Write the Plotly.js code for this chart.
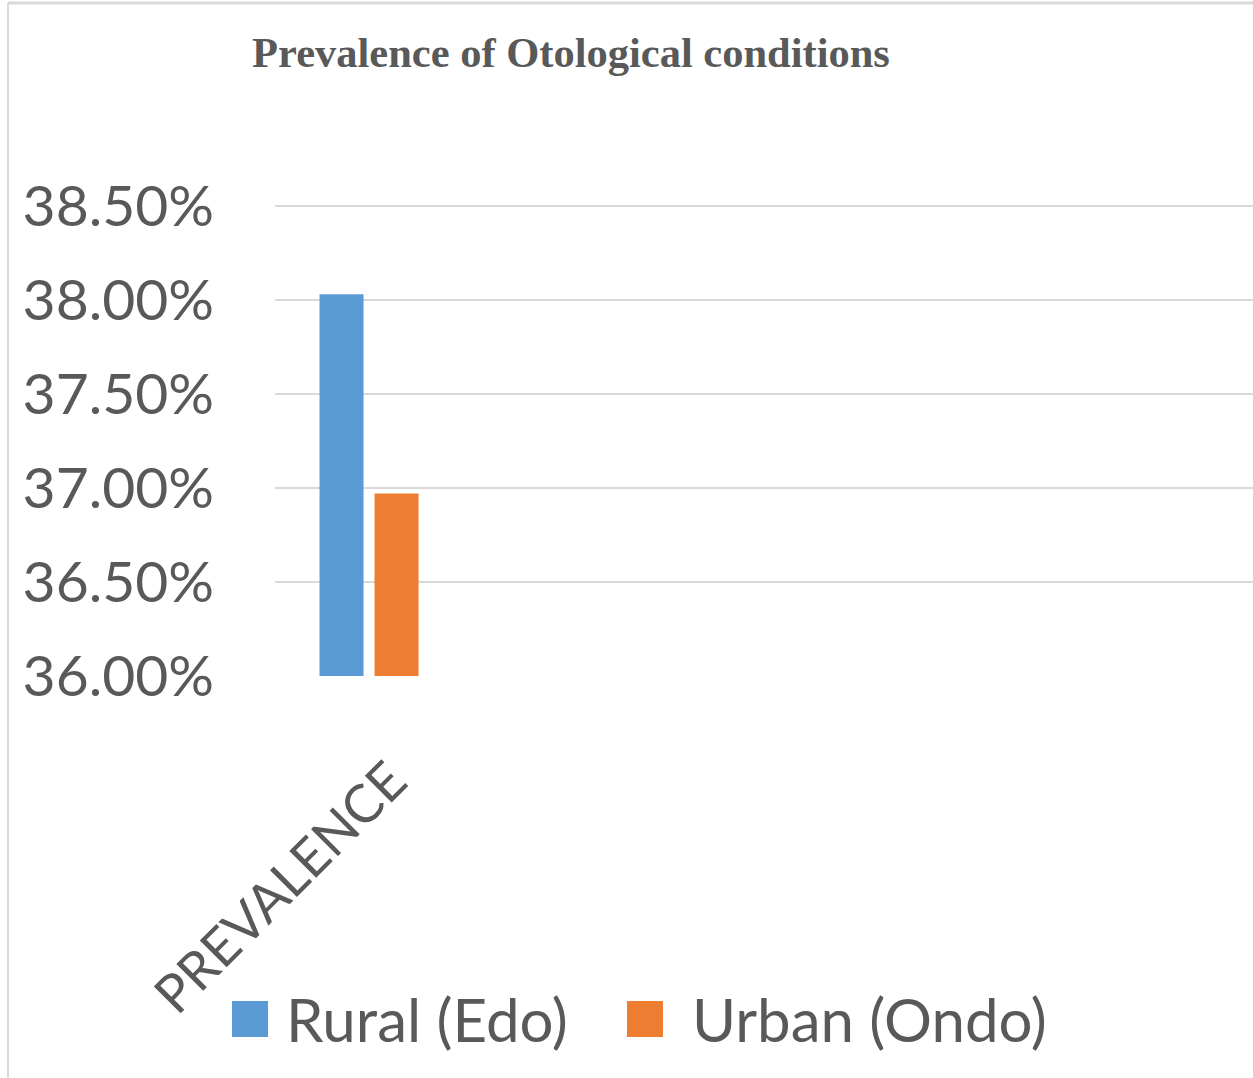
<!DOCTYPE html>
<html>
<head>
<meta charset="utf-8">
<script src="https://cdn.plot.ly/plotly-3.0.1.min.js"></script>
<style>
  html, body { margin: 0; padding: 0; background: #ffffff; }
  #chart { width: 1253px; height: 1078px; }
</style>
</head>
<body>
<div id="chart"></div>
<script>
// ---- data ----
const categories = ['PREVALENCE'];
const seriesNames = ['Rural (Edo)', 'Urban (Ondo)'];
const ruralValues = [0.3803];
const urbanValues = [0.3697];
const yTickValues = [0.36, 0.365, 0.37, 0.375, 0.38, 0.385];
const yTickLabels = ['36.00%', '36.50%', '37.00%', '37.50%', '38.00%', '38.50%'];
const chartTitle = 'Prevalence of Otological conditions';

// ---- styles ----
const W = 1253, H = 1078;
const M = { l: 275, r: 0, t: 202, b: 402 };
const plotW = W - M.l - M.r, plotH = H - M.t - M.b;
const px2x = p => (p - M.l) / plotW;
const py2y = p => (H - M.b - p) / plotH;
const colors = ['#5B9BD5', '#ED7D31'];
const textColor = '#595959';
const gridColor = '#D9D9D9';
const sansFont = 'Lato, "Open Sans", sans-serif';

const traces = [
  { type: 'bar', name: seriesNames[0], x: categories, y: ruralValues,
    marker: { color: colors[0] }, showlegend: false, hoverinfo: 'y' },
  { type: 'bar', name: seriesNames[1], x: categories, y: urbanValues,
    marker: { color: colors[1] }, showlegend: false, hoverinfo: 'y' }
];

// legend drawn as shapes + annotations (large swatches like the original)
const legendItems = [
  { sw: 232, tx: 284 },
  { sw: 627, tx: 690 }
];
const shapes = [];
const annotations = [];
legendItems.forEach((it, i) => {
  shapes.push({ type: 'rect', xref: 'paper', yref: 'paper',
    x0: px2x(it.sw), x1: px2x(it.sw + 36), y0: py2y(1037), y1: py2y(1001),
    fillcolor: colors[i], line: { width: 0 } });
  annotations.push({ xref: 'paper', yref: 'paper', x: px2x(it.tx), y: py2y(1019),
    xanchor: 'left', yanchor: 'middle', showarrow: false, text: seriesNames[i],
    font: { family: sansFont, size: 60, color: textColor } });
});
// chart frame (top and left border)
shapes.push({ type: 'line', xref: 'paper', yref: 'paper', x0: px2x(8), x1: px2x(1253), y0: py2y(3), y1: py2y(3), line: { color: gridColor, width: 3 } });
shapes.push({ type: 'line', xref: 'paper', yref: 'paper', x0: px2x(8), x1: px2x(8), y0: py2y(3), y1: py2y(1078), line: { color: gridColor, width: 2 } });

const layout = {
  width: W, height: H,
  margin: M,
  paper_bgcolor: '#ffffff', plot_bgcolor: '#ffffff',
  title: { text: '<b>' + chartTitle + '</b>', x: 571 / W, xanchor: 'center', xref: 'container',
    y: 1 - 52 / H, yanchor: 'middle', yref: 'container',
    font: { family: '"Liberation Serif", "Times New Roman", serif', size: 42.5, color: textColor } },
  barmode: 'group', bargap: 0.415, bargroupgap: 0.2,
  xaxis: { type: 'category', range: [-0.5, 4.7], tickangle: -45, showgrid: false,
    showline: false, zeroline: false, ticks: '',
    ticklabelstandoff: 62, ticklabelshift: 22,
    tickfont: { family: sansFont, size: 53, color: textColor } },
  yaxis: { range: [0.36, 0.3852], tickvals: yTickValues, ticktext: yTickLabels,
    showgrid: true, gridcolor: gridColor, gridwidth: 2, zeroline: false, showline: false,
    ticks: '', ticklabelstandoff: 60,
    tickfont: { family: sansFont, size: 57, color: textColor } },
  shapes: shapes,
  annotations: annotations,
  showlegend: false
};

Plotly.newPlot('chart', traces, layout, { displayModeBar: false, staticPlot: true });
</script>
</body>
</html>
